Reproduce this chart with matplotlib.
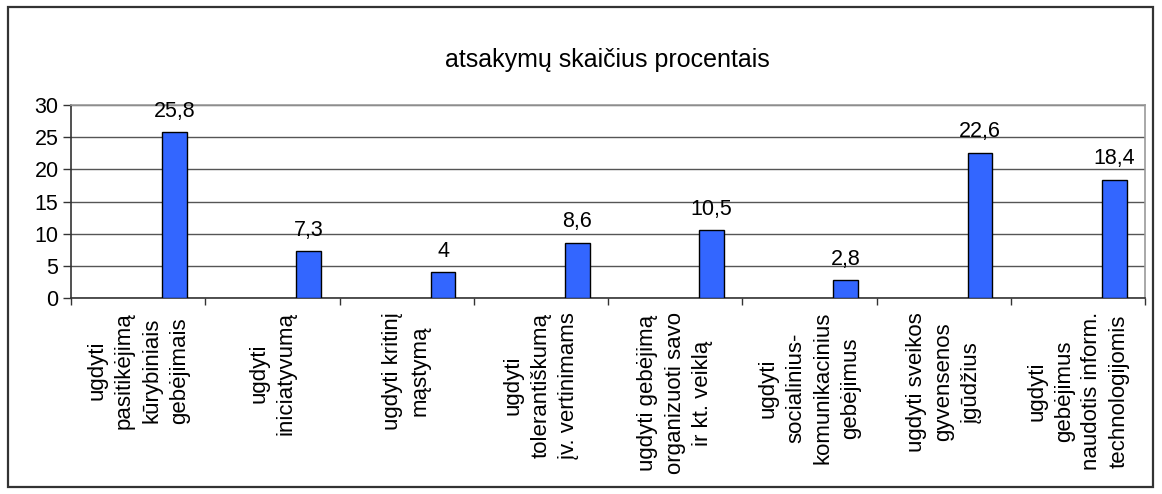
import matplotlib
matplotlib.use("Agg")
import matplotlib.pyplot as plt
from matplotlib.patches import Rectangle
import numpy as np

plt.rcParams['font.family'] = ['Liberation Sans', 'DejaVu Sans']

title = "atsakymų skaičius procentais"
categories = [
    "ugdyti\npasitikėjimą\nkūrybiniais\ngebėjimais",
    "ugdyti\niniciatyvumą",
    "ugdyti kritinį\nmąstymą",
    "ugdyti\ntolerantiškumą\nįv. vertinimams",
    "ugdyti gebėjimą\norganizuoti savo\nir kt. veiklą",
    "ugdyti\nsocialinius-\nkomunikacinius\ngebėjimus",
    "ugdyti sveikos\ngyvensenos\nįgūdžius",
    "ugdyti\ngebėjimus\nnaudotis inform.\ntechnologijomis",
]
values = [25.8, 7.3, 4, 8.6, 10.5, 2.8, 22.6, 18.4]
value_labels = ["25,8", "7,3", "4", "8,6", "10,5", "2,8", "22,6", "18,4"]
yticks = [0, 5, 10, 15, 20, 25, 30]

W, H = 1162, 494
fig = plt.figure(figsize=(W / 100, H / 100), dpi=100)

# outer border
fig.patches.append(Rectangle((8 / W, 7 / H), (1153 - 8) / W, (487 - 7) / H,
                             transform=fig.transFigure, fill=False,
                             edgecolor='#333333', linewidth=1.6))

ax = fig.add_axes([71 / W, (H - 298) / H, (1145 - 71) / W, (298 - 105) / H])

n = len(categories)
offset = 0.771
width = 0.186
x = np.arange(n) + offset
ax.bar(x, values, width=width, color='#3366FF', edgecolor='black', linewidth=1.0, zorder=3)

for xi, v, lab in zip(x, values, value_labels):
    ax.annotate(lab, (xi, v), xytext=(0, 11), textcoords='offset points',
                ha='center', va='baseline', fontsize=15.5, zorder=4)

ax.set_xlim(0, n)
ax.set_ylim(0, 30)
ax.set_yticks(yticks)
ax.set_yticklabels([str(t) for t in yticks], fontsize=15.5)
ax.yaxis.grid(True, color='#555555', linewidth=1.0, zorder=0)

ax.set_xticks(np.arange(n + 1))
ax.set_xticklabels([])
ax.tick_params(axis='x', length=5, width=1, color='#333333', direction='out')
ax.tick_params(axis='y', length=6, width=1, color='#333333', direction='out', pad=3)

for sp in ['top', 'right']:
    ax.spines[sp].set_color('#999999')
    ax.spines[sp].set_linewidth(1.2)
for sp in ['left', 'bottom']:
    ax.spines[sp].set_color('#333333')
    ax.spines[sp].set_linewidth(1.2)

for i, c in enumerate(categories):
    ax.annotate(c, (i + 0.5, 0), xycoords=('data', 'axes fraction'),
                xytext=(0, -10), textcoords='offset points',
                rotation=90, ha='center', va='top', multialignment='center',
                fontsize=16, linespacing=1.4)

fig.text(607 / W, 1 - 60 / H, title, ha='center', va='center', fontsize=18)

fig.savefig('out.png', dpi=100)
